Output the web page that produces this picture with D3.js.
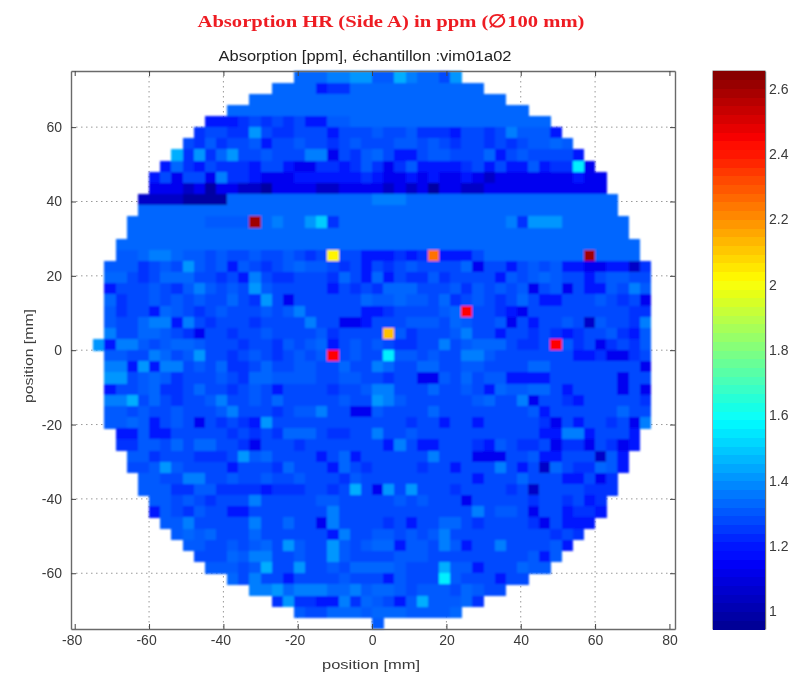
<!DOCTYPE html>
<html><head><meta charset="utf-8">
<script src="https://cdn.jsdelivr.net/npm/d3@7"></script>
<style>html,body{margin:0;padding:0;background:#fff}svg{display:block}</style>
</head><body><div id="chart"></div>
<script>
const chartTitle = "Absorption HR (Side A) in ppm (\u2205100 mm)";
const plotTitle = "Absorption [ppm], \u00e9chantillon :vim01a02";
const xLabel = "position [mm]";
const yLabel = "position [mm]";
const xTicks = [-80,-60,-40,-20,0,20,40,60,80];
const yTicks = [-60,-40,-20,0,20,40,60];
const cbarTicks = [1,1.2,1.4,1.6,1.8,2,2.2,2.4,2.6];
const cellCodes  = "abcdefghijklmGYORD";
const cellValues = [0.98,1.05,1.13,1.19,1.24,1.28,1.31,1.33,1.37,1.41,1.45,1.50,1.56,2.12,2.03,2.25,2.44,2.60];
// measured absorption per 3 mm cell, top row first; "." = outside the sample
const absorptionRows = [
".......... ........hh hiijjggkih hfj....... ..........",
".......... ......hhhh deehhhhhhh hhhhh..... ..........",
".......... ....hhhhhh hhhhhhhhhh hhhhhhh... ..........",
".......... ..hhhhhhhh hhhhhhhhhh hhhhhhhhh. ..........",
".......... dddefefefd dgghhhhhhh hhhhhhhhhh h.........",
".........e ffeejfeeff fdfffgffge eedffefigg gd........",
"........fe geffgdffgf fefgfffggf gfeffefefg ghg.......",
".......kej ehjffgfffi icfeghfddf ggfffhdfgf fffd......",
"......dhed feeedffdcc eedegecegd dddefdfddg deemc.....",
".....dfcff cieedcccdd ddddedccdc dccdcbcccc cccdcc....",
".....cccbc accbbacccc bbccccbcbc accbbccccc cccccc....",
"....bbbbaa aahhhhhhhh hhhhhiiihh hhhhhhhhhh hhhhhhh...",
"....hhhhhh hhhhhhhhhh hhhhhhhhhh hhhhhhhhhh hhhhhhh...",
"...hhhhhhh ggggDhihhj lehhhhhhhh hhhhhhhiej jjhhhhhh..",
"...hhhhhhh hhhhhhhhhh hhhhhhhhhh hhhhhhhhhh hhhhhhhh..",
"..hhhhhhhh hhhhhhhhhh hhhhhhhhhh hhhhhhhhhh hhhhhhhhh.",
"..gghiihgg fgffgffgfe fYffdddede Odddfhhhhh hhhhDhhhh.",
".gggefgfjg fgdgfefghg gfefdfefgf fffhcffdfg fgddccddbe",
".hhfefhhhf fefdifeeff fehfdhdfee geffffdgfg hgffdfggff",
".dfffgfegi gfgfjgffff fdfefehhhf ffgegfgfgc fgcfddgfig",
".heffgfgfg ffhfejfcff ffffhgghgg fhefgfefhf ddfffgfefc",
".geffdhgfe fgfffgfgif ffffddefff fghRffedcf ffffffffee",
".gffhiidif efffeffffi ffccdfffgg gfhgffgcfd ffgfbgffei",
".iffhhgfec ffeffgffff geffffGgef ffgiffdffe fedeffgedg",
"jdiigfghhg fffeffegfg hdfgfgfeef fifghhhfee fRgefcefeg",
".ggffihfgj ffefgfefgf gRfgffmggf gffiigffff fffddeccef",
".iidjdiifg fheefhffgg ffhffihffh hffggffffh hffffffffc",
".jjfghgeff fgfehhgggg ffggffeffc cgfhfggddd dffffffcff",
".dffgheefh ffefgfdfff feffgiifff hffgfdhggh hfdffffcfc",
".iikfhfeff giffgfhfff ffgffjigff ffffghffic ffedfffffe",
".ggfgffgff fgifffefgg iffccgffff hffffffffg dffffffhff",
".gghgdfgfc fefedjffff ffffffffef fdffdfffff ecfdffefci",
"..ddgddfff ffefefehhh feeffiffgf ffffffffff ddiidfffd.",
"..eeggfhfh hffecfffef ffffffdifd dfffedgfee fceecfecd.",
"...ggefffe eefjghffff dfhdffffff ifffcccffg ddfffbgd..",
"...ffgjgff ffdfffehff fdhfeffffe ffdfffifdf bhfeehgd..",
"....ggffii ffgffgffgf ffegffffff ffffdfffhf ffddfce...",
"....gggeeg geeeedeeef fefkfcjfjf ffeffffefb ffffeee...",
".....ggfgf efffifffff ggfffffgfg fffcfffffe ffefde....",
".....dgfeg ffddffffff fiffffffff ffffifggfc ffdeed....",
"......ggif ffffiffhff ciffffefdf fhhfeffffe cfddd.....",
".......ghg hfffhfffff fdiffggfgf giffffffff fefe......",
"........gg ffgfghfjgf fjgfghhdgg figdffifff fgd.......",
".........f ffhgiiffgf fjgffffggg fffffffffg dg........",
".......... gggfgkffjf fgfhhhhgff fkggdfffhg g.........",
".......... ..hfiffdff ffgfffdgff fmgfffdff. ..........",
".......... ....iijhii ihhighhgfg ggfhgff... ..........",
".......... ......ejee ddiehgfdgk ggghe..... ..........",
".......... ........gf fhhhghhhgg ggh....... ..........",
".......... .......... .....g.... .......... .........."
];

const W = 794, H = 674;
const svg = d3.select("#chart").append("svg").attr("width", W).attr("height", H);
const defs = svg.append("defs");
defs.append("filter").attr("id","soft").attr("x","-5%").attr("y","-5%").attr("width","110%").attr("height","110%")
  .append("feGaussianBlur").attr("stdDeviation",1.0);
defs.append("filter").attr("id","softBar").attr("x","-5%").attr("y","-1%").attr("width","110%").attr("height","102%")
  .append("feGaussianBlur").attr("stdDeviation",0.7);
defs.append("filter").attr("id","softText").attr("x","-5%").attr("y","-20%").attr("width","110%").attr("height","140%")
  .append("feGaussianBlur").attr("stdDeviation",0.45);

const x = d3.scaleLinear().domain([-81,81.5]).range([71,675]);
const y = d3.scaleLinear().domain([75.1,-75]).range([71,629]);
const cRange = [0.945,2.655];
const jetT = d3.scaleLinear().domain([0,.125,.375,.625,.875,1])
  .range(["#000090","#0000ff","#00ffff","#ffff00","#ff0000","#800000"]).clamp(true);
const color = v => jetT((v-cRange[0])/(cRange[1]-cRange[0]));

const codeValue = new Map(Array.from(cellCodes).map((c,i)=>[c,cellValues[i]]));
const cells = [];
absorptionRows.forEach((row,r)=>{
  Array.from(row.replace(/ /g,"")).forEach((ch,c)=>{
    if (codeValue.has(ch)) cells.push({mmX:-75+3*c, mmY:75-3*r, v:codeValue.get(ch)});
  });
});

// grid
const grid = svg.append("g").attr("stroke","#999").attr("stroke-width",1).attr("stroke-dasharray","1.5 3.5");
xTicks.slice(1,-1).forEach(t=>grid.append("line").attr("x1",x(t)).attr("x2",x(t)).attr("y1",y.range()[0]).attr("y2",y.range()[1]));
yTicks.forEach(t=>grid.append("line").attr("x1",71).attr("x2",675).attr("y1",y(t)).attr("y2",y(t)));

// heat map
svg.append("g").attr("filter","url(#soft)").attr("shape-rendering","crispEdges")
  .selectAll("rect").data(cells).join("rect")
  .attr("x",d=>x(d.mmX)).attr("y",d=>y(d.mmY))
  .attr("width",d=>x(d.mmX+3)-x(d.mmX)+0.4).attr("height",d=>y(d.mmY-3)-y(d.mmY)+0.4)
  .attr("fill",d=>color(d.v));

// frame and axes
const font = "'Liberation Sans', Arial, sans-serif";
const tickFmt = d => String(d);
function styleAxis(g){
  g.selectAll("text").attr("font-family",font).attr("font-size",14).attr("fill","#3a3a3a");
  g.selectAll("line").attr("stroke","#444");
  g.select(".domain").attr("stroke","#6a6a6a").attr("stroke-width",1.4);
}
const axisG = svg.append("g").attr("filter","url(#softText)");
axisG.append("g").attr("transform","translate(0,629)")
  .call(d3.axisBottom(x).tickValues(xTicks).tickFormat(tickFmt).tickSizeInner(-5).tickSizeOuter(0).tickPadding(6)).call(styleAxis)
  .call(g=>g.selectAll(".tick text").filter(d=>d<0).attr("dx",-3));
axisG.append("g").attr("transform","translate(71,0)")
  .call(d3.axisLeft(y).tickValues(yTicks).tickFormat(tickFmt).tickSizeInner(-5).tickSizeOuter(0).tickPadding(9)).call(styleAxis);
axisG.append("g").attr("transform","translate(0,71)")
  .call(d3.axisTop(x).tickValues(xTicks).tickFormat("").tickSizeInner(-5).tickSizeOuter(0)).call(styleAxis);
axisG.append("g").attr("transform","translate(675,0)")
  .call(d3.axisRight(y).tickValues(yTicks).tickFormat("").tickSizeInner(-5).tickSizeOuter(0)).call(styleAxis);

// colour bar
const cb = {x0:713,x1:765,y0:71,y1:629};
const cy = d3.scaleLinear().domain(cRange).range([cb.y1,cb.y0]);
const step = (cRange[1]-cRange[0])/64;
const levels = d3.range(64).map(i=>cRange[0]+step*i);
svg.append("g").attr("filter","url(#softBar)").attr("shape-rendering","crispEdges").selectAll("rect").data(levels).join("rect")
  .attr("x",cb.x0).attr("width",cb.x1-cb.x0)
  .attr("y",d=>cy(d+step)).attr("height",d=>cy(d)-cy(d+step)+0.6)
  .attr("fill",d=>color(d+step/2));
axisG.append("rect").attr("x",cb.x0).attr("y",cb.y0).attr("width",cb.x1-cb.x0).attr("height",cb.y1-cb.y0)
  .attr("fill","none").attr("stroke","#777");
axisG.append("g").attr("transform",`translate(${cb.x1},0)`)
  .call(d3.axisRight(cy).tickValues(cbarTicks).tickFormat(d=>String(d)).tickSizeInner(-5).tickSizeOuter(0).tickPadding(4)).call(styleAxis);
axisG.append("g").attr("transform",`translate(${cb.x0},0)`)
  .call(d3.axisLeft(cy).tickValues(cbarTicks).tickFormat("").tickSizeInner(-5).tickSizeOuter(0)).call(styleAxis);

// texts
const texts = svg.append("g").attr("filter","url(#softText)");
texts.append("text").attr("x",391).attr("y",26.5).attr("text-anchor","middle")
  .attr("font-family","'Liberation Serif','Times New Roman',serif").attr("font-weight","bold").attr("font-size",17.5)
  .attr("textLength",387).attr("lengthAdjust","spacingAndGlyphs").attr("fill","#ee1c24").text(chartTitle);
texts.append("text").attr("x",365).attr("y",61).attr("text-anchor","middle")
  .attr("font-family",font).attr("font-size",14).attr("textLength",293).attr("lengthAdjust","spacingAndGlyphs").attr("fill","#222").text(plotTitle);
texts.append("text").attr("x",371).attr("y",669).attr("text-anchor","middle")
  .attr("font-family",font).attr("font-size",13.5).attr("textLength",98).attr("lengthAdjust","spacingAndGlyphs").attr("fill","#3a3a3a").text(xLabel);
texts.append("text").attr("transform","translate(33,356) rotate(-90)").attr("text-anchor","middle")
  .attr("font-family",font).attr("font-size",13.5).attr("textLength",94).attr("lengthAdjust","spacingAndGlyphs").attr("fill","#3a3a3a").text(yLabel);
</script></body></html>
